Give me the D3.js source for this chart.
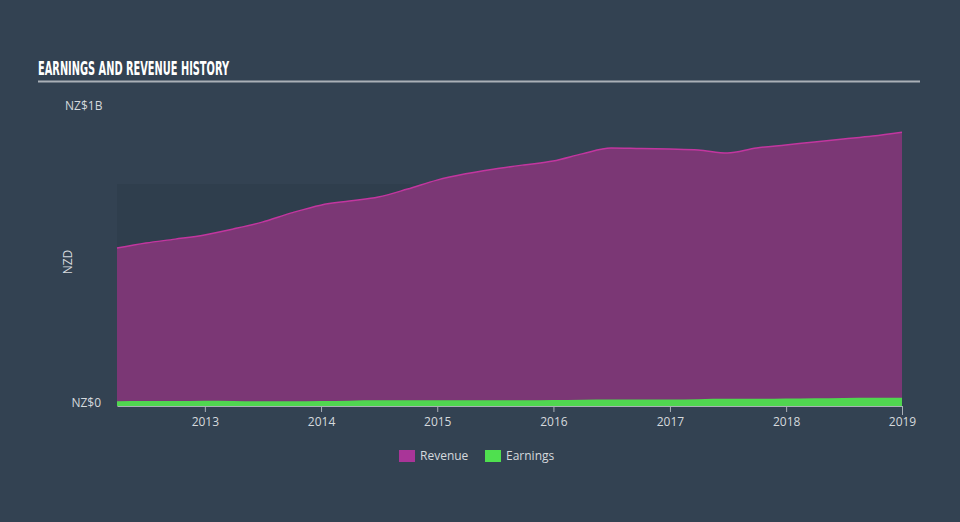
<!DOCTYPE html>
<html><head><meta charset="utf-8">
<script src="https://cdn.jsdelivr.net/npm/d3@7"></script>
<style>
html,body{margin:0;padding:0;background:#334252;}
svg{display:block;}
</style></head>
<body>
<svg id="chart" width="960" height="522"></svg>
<script>
const dates = ["2012-03-31","2012-06-30","2012-09-30","2012-12-31","2013-03-31","2013-06-30","2013-09-30","2013-12-31",
"2014-03-31","2014-06-30","2014-09-30","2014-12-31","2015-03-31","2015-06-30","2015-09-30","2015-12-31",
"2016-03-31","2016-06-30","2016-09-30","2016-12-31","2017-03-31","2017-06-30","2017-09-30","2017-12-31",
"2018-03-31","2018-06-30","2018-09-30","2018-12-31"];
const revenue = [0.530,0.547,0.560,0.574,0.594,0.617,0.648,0.674,0.688,0.701,0.728,0.758,0.779,0.795,0.809,0.822,
0.846,0.866,0.864,0.862,0.859,0.849,0.866,0.876,0.886,0.896,0.906,0.919];
const earnings = [0.016,0.017,0.017,0.018,0.017,0.016,0.016,0.017,0.018,0.019,0.019,0.019,0.019,0.019,0.019,0.020,
0.021,0.022,0.022,0.022,0.023,0.024,0.024,0.025,0.026,0.027,0.028,0.028];
const xTickYears = [2013,2014,2015,2016,2017,2018,2019];
const yTicks = [{v:0,label:"NZ$0"},{v:1,label:"NZ$1B"}];
const seriesNames = ["Revenue","Earnings"];

(function(){
const parse = d3.timeParse("%Y-%m-%d");
const data = dates.map((d,i)=>({date:parse(d), rev:revenue[i], earn:earnings[i]}));

const svg = d3.select("#chart");
const pLeft = 117, pRight = 902, pTop = 108, pBottom = 406;
const x = d3.scaleTime().domain([data[0].date, data[data.length-1].date]).range([pLeft,pRight]);
const y = d3.scaleLinear().domain([0,1]).range([pBottom, pTop]);

// Title
svg.append("text").attr("x",38).attr("y",75)
  .attr("fill","#ffffff").attr("font-family","'Liberation Sans Narrow','DejaVu Sans Condensed',sans-serif")
  .attr("font-weight","bold").attr("font-size",20).attr("textLength",191).attr("lengthAdjust","spacingAndGlyphs")
  .text("EARNINGS AND REVENUE HISTORY");
svg.append("rect").attr("x",38).attr("y",80.5).attr("width",882).attr("height",2).attr("fill","#aab0b7");

// dark past region
svg.append("rect").attr("x",pLeft).attr("y",184).attr("width",pRight-pLeft).attr("height",pBottom-184).attr("fill","#2f3e4d");

// revenue area
const areaRev = d3.area().x(d=>x(d.date)).y0(y(0)).y1(d=>y(d.rev)).curve(d3.curveMonotoneX);
const lineRev = d3.line().x(d=>x(d.date)).y(d=>y(d.rev)).curve(d3.curveMonotoneX);
svg.append("path").datum(data).attr("d",areaRev).attr("fill","#7b3775");
svg.append("path").datum(data).attr("d",lineRev).attr("fill","none").attr("stroke","#c2369f").attr("stroke-width",1.5);

// earnings area
const areaEarn = d3.area().x(d=>x(d.date)).y0(y(0)).y1(d=>y(d.earn)).curve(d3.curveMonotoneX);
svg.append("path").datum(data).attr("d",areaEarn).attr("fill","#50d650");

// x axis
const xAxis = d3.axisBottom(x)
  .tickValues(xTickYears.map(yr=> yr===2019 ? data[data.length-1].date : new Date(yr,0,1)))
  .tickFormat((d,i)=>String(xTickYears[i])).tickSize(6).tickSizeOuter(0);
const gx = svg.append("g").attr("transform",`translate(0,${pBottom})`).call(xAxis);
gx.select(".domain").attr("stroke","#aab0b7");
gx.selectAll(".tick line").attr("stroke","#aab0b7");
gx.selectAll(".tick").filter((d,i)=>i===xTickYears.length-1).select("line").attr("y2",9);
gx.selectAll("text").attr("fill","#d5d9dd").attr("font-family","'Open Sans',sans-serif").attr("font-size",12).attr("dy","0.9em");

// y tick labels
svg.selectAll(".ylab").data(yTicks).enter().append("text")
  .attr("x",d=> d.v===0 ? 101 : 65).attr("y",d=> d.v===0 ? y(d.v)-2 : y(d.v)-1)
  .attr("text-anchor",d=> d.v===0 ? "end" : "start").attr("dominant-baseline","middle")
  .attr("fill","#d5d9dd").attr("font-family","'Open Sans',sans-serif").attr("font-size",12).text(d=>d.label);

// y axis title
svg.append("text").attr("transform","translate(72,262) rotate(-90)").attr("text-anchor","middle")
  .attr("fill","#d5d9dd").attr("font-family","'Open Sans',sans-serif").attr("font-size",12).text("NZD");

// legend
const legColors = ["#a93598","#4fe04f"];
const legX = [399,485];
seriesNames.forEach((n,i)=>{
  svg.append("rect").attr("x",legX[i]).attr("y",450).attr("width",16).attr("height",12).attr("fill",legColors[i]);
  svg.append("text").attr("x",legX[i]+21).attr("y",456.5).attr("dominant-baseline","middle")
    .attr("fill","#d5d9dd").attr("font-family","'Open Sans',sans-serif").attr("font-size",12).text(n);
});
})();
</script>
</body></html>
